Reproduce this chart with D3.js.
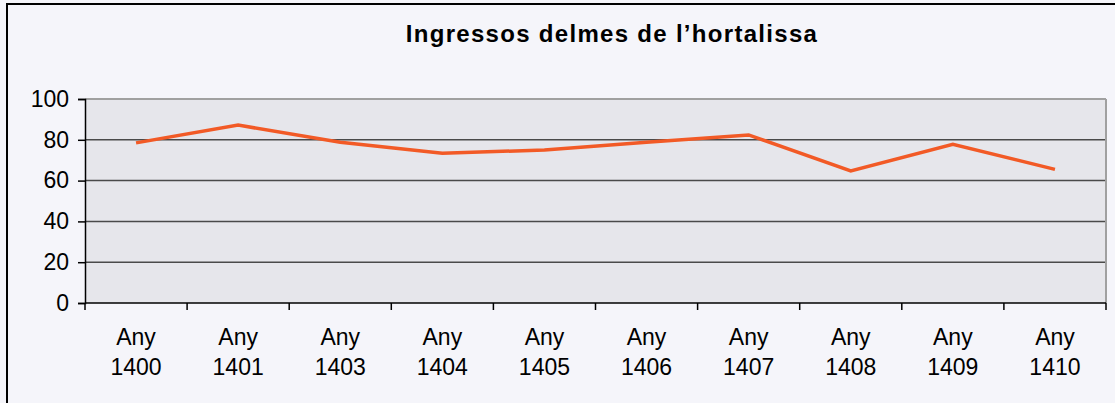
<!DOCTYPE html>
<html><head><meta charset="utf-8">
<script src="https://cdn.jsdelivr.net/npm/d3@7"></script>
<style>body{margin:0;background:#f5f5fa;}svg{display:block;}</style>
</head><body>
<svg id="c" width="1115" height="403"></svg>
<script>
const title = "Ingressos delmes de l\u2019hortalissa";
const categories = ["Any 1400","Any 1401","Any 1403","Any 1404","Any 1405","Any 1406","Any 1407","Any 1408","Any 1409","Any 1410"];
const values = [78.5, 87.2, 78.8, 73.4, 75.0, 78.8, 82.4, 64.7, 77.8, 65.5];
const yTicks = [0,20,40,60,80,100];

const svg = d3.select("#c");
const W = 1115, H = 403;
const m = {left:85, right:1106, top:99, bottom:303};
const FONT = "Liberation Sans, Arial, sans-serif";

svg.append("rect").attr("x",0).attr("y",0).attr("width",W).attr("height",H).attr("fill","#f5f5fa");
svg.append("rect").attr("x",7).attr("y",4).attr("width",W+10).attr("height",H+10)
  .attr("fill","none").attr("stroke","#000").attr("stroke-width",2);

const x = d3.scaleBand().domain(categories).range([m.left,m.right]).padding(0);
const y = d3.scaleLinear().domain([0,100]).range([m.bottom,m.top]);

svg.append("rect").attr("x",m.left).attr("y",m.top).attr("width",m.right-m.left).attr("height",m.bottom-m.top)
  .attr("fill","#e6e6eb");

// gridlines
svg.append("g").selectAll("line").data(yTicks.filter(d=>d>0 && d<100)).join("line")
  .attr("x1",m.left).attr("x2",m.right).attr("y1",d=>y(d)).attr("y2",d=>y(d))
  .attr("stroke","#4a4a4a").attr("stroke-width",1.5);
// frame top & right
svg.append("line").attr("x1",m.left).attr("x2",m.right).attr("y1",m.top).attr("y2",m.top)
  .attr("stroke","#a0a0a0").attr("stroke-width",2);
svg.append("line").attr("x1",m.right).attr("x2",m.right).attr("y1",m.top).attr("y2",m.bottom)
  .attr("stroke","#a0a0a0").attr("stroke-width",2);

// y axis
const yAxis = svg.append("g").attr("transform",`translate(${m.left},0)`)
  .call(d3.axisLeft(y).tickValues(yTicks).tickSize(7).tickPadding(9));
yAxis.select(".domain").attr("stroke","#000").attr("stroke-width",1.5);
yAxis.selectAll(".tick line").attr("stroke","#000").attr("stroke-width",1.5);
yAxis.selectAll("text").attr("font-family",FONT).attr("font-size",23).attr("fill","#000");

// x axis: ticks at category boundaries
const xg = svg.append("g");
xg.append("line").attr("x1",m.left).attr("x2",m.right).attr("y1",m.bottom).attr("y2",m.bottom)
  .attr("stroke","#000").attr("stroke-width",1.5);
const bounds = categories.map(c=>x(c)).concat([m.right]);
xg.selectAll("line.t").data(bounds).join("line").attr("class","t")
  .attr("x1",d=>d).attr("x2",d=>d).attr("y1",m.bottom).attr("y2",m.bottom+7)
  .attr("stroke","#000").attr("stroke-width",1.5);
const lab = xg.selectAll("text").data(categories).join("text")
  .attr("x",d=>x(d)+x.bandwidth()/2).attr("text-anchor","middle")
  .attr("font-family",FONT).attr("font-size",23).attr("fill","#000");
lab.append("tspan").attr("x",d=>x(d)+x.bandwidth()/2).attr("y",345).text(d=>d.split(" ")[0]);
lab.append("tspan").attr("x",d=>x(d)+x.bandwidth()/2).attr("y",375).text(d=>d.split(" ")[1]);

// line
const line = d3.line().x((d,i)=>x(categories[i])+x.bandwidth()/2).y(d=>y(d));
svg.append("path").datum(values).attr("d",line).attr("fill","none")
  .attr("stroke","#f25a26").attr("stroke-width",3.5).attr("stroke-linejoin","miter");

// title
svg.append("text").attr("x",612).attr("y",42).attr("text-anchor","middle")
  .attr("font-family",FONT).attr("font-weight","bold").attr("font-size",24)
  .attr("letter-spacing","1.3px")
  .attr("fill","#000").text(title);
</script>
</body></html>
